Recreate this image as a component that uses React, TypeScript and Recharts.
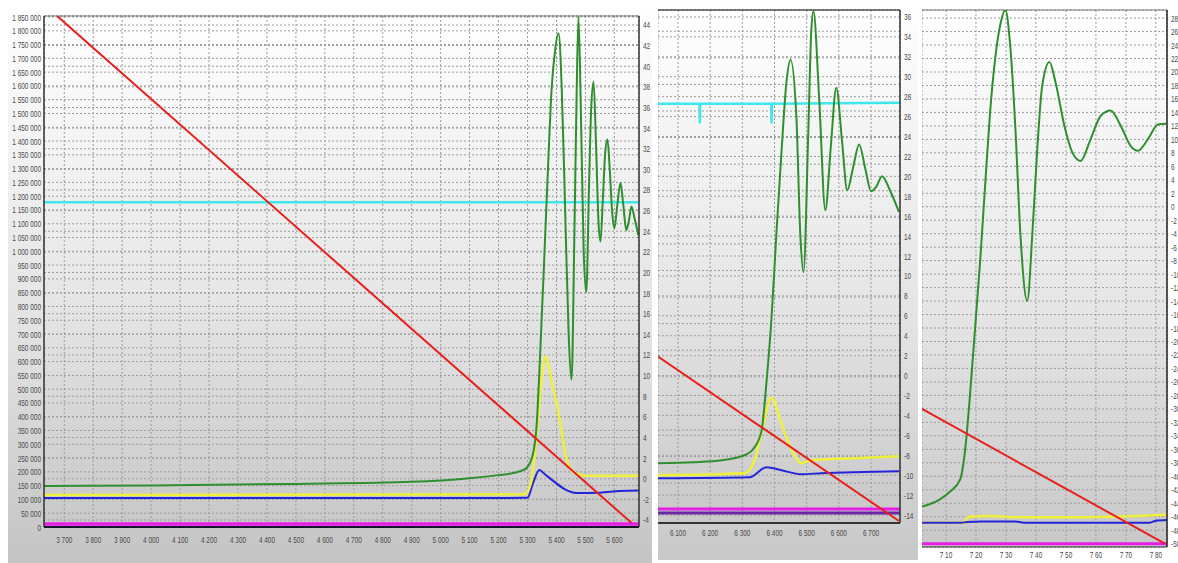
import React from "react";
import {
  LineChart,
  Line,
  XAxis,
  YAxis,
  CartesianGrid,
  ReferenceLine,
} from "recharts";

// ---------- panel 1 (3 630 .. 5 685) ----------
const p1XTicks = [3700, 3800, 3900, 4000, 4100, 4200, 4300, 4400, 4500, 4600, 4700, 4800, 4900, 5000, 5100, 5200, 5300, 5400, 5500, 5600];
const p1LeftTicks = [0, 50000, 100000, 150000, 200000, 250000, 300000, 350000, 400000, 450000, 500000, 550000, 600000, 650000, 700000, 750000, 800000, 850000, 900000, 950000, 1000000, 1050000, 1100000, 1150000, 1200000, 1250000, 1300000, 1350000, 1400000, 1450000, 1500000, 1550000, 1600000, 1650000, 1700000, 1750000, 1800000, 1850000];
const p1RightTicks = [-4, -2, 0, 2, 4, 6, 8, 10, 12, 14, 16, 18, 20, 22, 24, 26, 28, 30, 32, 34, 36, 38, 40, 42, 44];

const p1RedX = [3676, 5659];
const p1RedY = [1853000, 15000];
const p1CyanX = [3630, 5685];
const p1CyanY = [26.8, 26.8];
const p1MagX = [3630, 5685];
const p1MagY = [-4.4, -4.4];
const p1GreenX = [3630, 4000, 4500, 4900, 5100, 5200, 5250, 5290, 5315, 5331, 5345, 5359, 5372, 5383, 5395, 5407, 5418, 5430, 5442, 5452, 5462, 5470, 5476, 5484, 5494, 5503, 5512, 5520, 5528, 5537, 5545, 5552, 5560, 5568, 5576, 5584, 5592, 5600, 5610, 5621, 5631, 5641, 5650, 5659, 5670, 5683];
const p1GreenY = [-0.7, -0.65, -0.5, -0.3, 0.05, 0.35, 0.55, 0.9, 2.0, 5.0, 13, 22.2, 31, 37.7, 41.5, 43.2, 38, 26, 14, 9.6, 24, 38, 44.8, 36, 22, 18.1, 28, 36, 38.5, 32, 25, 23.0, 27, 31.5, 32.9, 30, 26, 24.3, 26.5, 28.7, 26.5, 24.1, 25, 26.4, 25.2, 23.6];
const p1YellowX = [3630, 5290, 5310, 5330, 5345, 5362, 5386, 5410, 5434, 5462, 5500, 5600, 5685];
const p1YellowY = [-1.58, -1.5, -0.6, 3.8, 8.6, 11.8, 9.1, 5.9, 2.0, 0.6, 0.3, 0.3, 0.3];
const p1BlueX = [3630, 5190, 5300, 5318, 5341, 5359, 5393, 5428, 5469, 5550, 5617, 5685];
const p1BlueY = [-1.87, -1.87, -1.85, -0.5, 0.85, 0.46, -0.3, -1.0, -1.38, -1.35, -1.2, -1.15];

// ---------- panel 2 (6 038 .. 6 790) ----------
const p2XTicks = [6100, 6200, 6300, 6400, 6500, 6600, 6700];
const p2RightTicks = [-14, -12, -10, -8, -6, -4, -2, 0, 2, 4, 6, 8, 10, 12, 14, 16, 18, 20, 22, 24, 26, 28, 30, 32, 34, 36];

const p2CyanX = [6038, 6167, 6168, 6169, 6390, 6391, 6392, 6790];
const p2CyanY = [27.3, 27.3, 25.3, 27.3, 27.3, 25.3, 27.3, 27.4];
const p2GreenX = [6038, 6150, 6236, 6307, 6338, 6360, 6375, 6391, 6406, 6422, 6437, 6450, 6468, 6480, 6490, 6505, 6514, 6521, 6539, 6558, 6575, 6592, 6610, 6626, 6645, 6663, 6682, 6700, 6717, 6734, 6760, 6787];
const p2GreenY = [-8.8, -8.7, -8.5, -8.0, -7.2, -5.5, -0.7, 5.9, 14.3, 22.6, 29.4, 31.7, 26.0, 14.3, 10.4, 24.4, 34.4, 36.6, 27.7, 16.6, 23, 28.9, 23.5, 18.6, 21, 23.2, 20.8, 18.5, 19, 20.0, 18.5, 16.4];
const p2YellowX = [6038, 6307, 6338, 6363, 6391, 6415, 6440, 6468, 6483, 6514, 6647, 6787];
const p2YellowY = [-10.0, -9.8, -8.5, -5.2, -2.2, -4.2, -6.5, -8.3, -8.8, -8.5, -8.3, -8.1];
const p2BlueX = [6038, 6323, 6375, 6422, 6483, 6545, 6787];
const p2BlueY = [-10.3, -10.2, -9.2, -9.5, -9.9, -9.8, -9.6];
const p2RedX = [6038, 6787];
const p2RedY = [1.9, -14.6];
const p2MagX = [6038, 6790];
const p2MagY = [-13.4, -13.4];
const p2PurpleY = [-13.8, -13.8];

// ---------- panel 3 (702 .. 783.7) ----------
const p3XTicks = [710, 720, 730, 740, 750, 760, 770, 780];
const p3RightTicks = [28, 26, 24, 22, 20, 18, 16, 14, 12, 10, 8, 6, 4, 2, 0, -2, -4, -6, -8, -10, -12, -14, -16, -18, -20, -22, -24, -26, -28, -30, -32, -34, -36, -38, -40, -42, -44, -46, -48, -50];

const p3GreenX = [702, 707.7, 711.3, 714.7, 716.4, 718, 719.7, 721.4, 723.1, 724.7, 726.4, 728.1, 729.8, 731.4, 733.1, 734.8, 737.1, 738.8, 740.5, 742.1, 744.5, 746.5, 749.5, 752.2, 754.9, 758.2, 761.6, 764.9, 768.3, 771.6, 774, 777.3, 780.7, 783.4];
const p3GreenY = [-44.5, -43.5, -42.3, -40.5, -36, -28, -18, -8, 3.5, 14, 22, 27, 29.2, 24, 12, -4, -14, -4, 9, 18, 21.5, 18.5, 12, 8, 6.8, 10, 13.5, 14.3, 12, 9, 8.3, 10, 12.2, 12.3];
const p3RedX = [702, 783];
const p3RedY = [-30, -50];
const p3YellowX = [702, 716, 717.5, 725, 735, 750, 765, 783.7];
const p3YellowY = [-46.9, -46.9, -46.0, -45.9, -46.1, -46.1, -46.0, -45.7];
const p3BlueX = [702, 715, 717, 722, 733, 736, 760, 778, 780, 783.7];
const p3BlueY = [-46.9, -46.9, -46.8, -46.7, -46.7, -46.9, -46.9, -46.9, -46.6, -46.5];
const p3MagX = [702, 783.7];
const p3MagY = [-50, -50];

const pts = (xs: number[], ys: number[]) => xs.map((x, i) => ({ x, y: ys[i] }));

const FONT = '"Liberation Sans", Arial, sans-serif';

const RED = "#e8201c";
const GREEN = "#2f8f2f";
const CYAN = "#3ee6ee";
const YELLOW = "#f0f03a";
const BLUE = "#2424d8";
const MAGENTA = "#e61ee6";

const spaced = (v: number) => v.toLocaleString("en-US").replace(/,/g, " ");
const plain = (v: number) => String(v);

// plain, horizontally squeezed <text> ticks (the source software uses a narrow face)
const mkTick = (fmt: (v: number) => string, anchor: string, dy: number) => (props: any) => {
  const { x, y, payload } = props;
  return (
    <g transform={`translate(${x},${y})`}>
      <text transform="scale(0.68,1)" dy={dy} textAnchor={anchor} fontSize={9.5} fill="#4a4a4a" fontFamily={FONT}>
        {fmt(payload.value)}
      </text>
    </g>
  );
};

const gridProps = { stroke: "#9c9c9c", strokeDasharray: "2 2" };

const PlotGradient = ({ id }: { id: string }) => (
  <defs>
    <linearGradient id={id} x1="0" y1="0" x2="0" y2="1">
      <stop offset="0%" stopColor="#ffffff" />
      <stop offset="55%" stopColor="#e6e6e6" />
      <stop offset="100%" stopColor="#c8c8c8" />
    </linearGradient>
  </defs>
);

export default function App() {
  return (
    <div style={{ position: "fixed", left: 0, top: 0, width: 1178, height: 563, background: "#fff", overflow: "hidden" }}>
      {/* Panel 1 */}
      <div style={{ position: "absolute", left: 8, top: 0, width: 644, height: 563, background: "linear-gradient(#ffffff, #e2e2e2 60%, #c4c4c4)", overflow: "hidden" }}>
        <LineChart width={644} height={563} margin={{ top: 16, right: 0, bottom: 0, left: 0 }}>
          <PlotGradient id="bg1" />
          <XAxis
            dataKey="x"
            type="number"
            domain={[3630, 5685]}
            allowDataOverflow
            ticks={p1XTicks}
            interval={0}
            height={36}
            tickLine={false}
            tickSize={0}
            axisLine={{ stroke: "#141428", strokeWidth: 2 }}
            tick={mkTick(spaced, "middle", 7)}
            tickMargin={9}
          />
          <YAxis
            yAxisId="l"
            orientation="left"
            type="number"
            width={36}
            domain={[0, 1853600]}
            allowDataOverflow
            ticks={p1LeftTicks}
            interval={0}
            tickLine={false}
            tickSize={0}
            axisLine={{ stroke: "#333", strokeWidth: 1.5 }}
            tick={mkTick(spaced, "end", 3.5)}
            tickMargin={3}
          />
          <YAxis
            yAxisId="r"
            orientation="right"
            type="number"
            width={13}
            domain={[-4.68, 44.87]}
            allowDataOverflow
            ticks={p1RightTicks}
            interval={0}
            tickLine={false}
            tickSize={0}
            axisLine={{ stroke: "#333", strokeWidth: 1.5 }}
            tick={mkTick(plain, "start", 3.5)}
            tickMargin={4}
          />
          <CartesianGrid yAxisId="l" fill="url(#bg1)" {...gridProps} />
          <CartesianGrid yAxisId="r" vertical={false} {...gridProps} />
          <ReferenceLine yAxisId="r" y={44.87} stroke="#777" strokeWidth={1} />
          <Line yAxisId="r" data={pts(p1MagX, p1MagY)} dataKey="y" stroke={MAGENTA} strokeWidth={3.5} dot={false} isAnimationActive={false} />
          <Line yAxisId="r" data={pts(p1CyanX, p1CyanY)} dataKey="y" stroke={CYAN} strokeWidth={2.5} dot={false} isAnimationActive={false} />
          <Line yAxisId="r" data={pts(p1BlueX, p1BlueY)} dataKey="y" type="monotone" stroke={BLUE} strokeWidth={2} dot={false} isAnimationActive={false} />
          <Line yAxisId="r" data={pts(p1YellowX, p1YellowY)} dataKey="y" type="monotone" stroke={YELLOW} strokeWidth={2.5} dot={false} isAnimationActive={false} />
          <Line yAxisId="r" data={pts(p1GreenX, p1GreenY)} dataKey="y" type="monotone" stroke={GREEN} strokeWidth={2} dot={false} isAnimationActive={false} />
          <Line yAxisId="l" data={pts(p1RedX, p1RedY)} dataKey="y" stroke={RED} strokeWidth={2} dot={false} isAnimationActive={false} />
        </LineChart>
      </div>

      {/* Panel 2 */}
      <div style={{ position: "absolute", left: 658, top: 0, width: 260, height: 560, background: "linear-gradient(#ffffff, #e2e2e2 60%, #c8c8c8)", overflow: "hidden" }}>
        <LineChart width={260} height={560} margin={{ top: 10, right: 0, bottom: 0, left: 0 }}>
          <PlotGradient id="bg2" />
          <XAxis
            dataKey="x"
            type="number"
            domain={[6038, 6790]}
            allowDataOverflow
            ticks={p2XTicks}
            interval={0}
            height={37}
            tickLine={false}
            tickSize={0}
            axisLine={{ stroke: "#333", strokeWidth: 2 }}
            tick={mkTick(spaced, "middle", 7)}
            tickMargin={6}
          />
          {/* hidden pressure axis: only its grid rows are visible in this panel */}
          <YAxis yAxisId="l" hide type="number" domain={[0, 1930000]} allowDataOverflow ticks={p1LeftTicks} />
          <YAxis
            yAxisId="r"
            orientation="right"
            type="number"
            width={18}
            domain={[-14.8, 36.7]}
            allowDataOverflow
            ticks={p2RightTicks}
            interval={0}
            tickLine={false}
            tickSize={0}
            axisLine={{ stroke: "#333", strokeWidth: 1.5 }}
            tick={mkTick(plain, "start", 3.5)}
            tickMargin={4}
          />
          <CartesianGrid yAxisId="r" fill="url(#bg2)" {...gridProps} />
          <CartesianGrid yAxisId="l" vertical={false} {...gridProps} />
          <ReferenceLine yAxisId="r" y={36.7} stroke="#555" strokeWidth={1.5} />
          <Line yAxisId="r" data={pts(p2MagX, p2PurpleY)} dataKey="y" stroke="#6a28a8" strokeWidth={3} dot={false} isAnimationActive={false} />
          <Line yAxisId="r" data={pts(p2MagX, p2MagY)} dataKey="y" stroke={MAGENTA} strokeWidth={3} dot={false} isAnimationActive={false} />
          <Line yAxisId="r" data={pts(p2CyanX, p2CyanY)} dataKey="y" stroke={CYAN} strokeWidth={2.5} dot={false} isAnimationActive={false} />
          <Line yAxisId="r" data={pts(p2BlueX, p2BlueY)} dataKey="y" type="monotone" stroke={BLUE} strokeWidth={2} dot={false} isAnimationActive={false} />
          <Line yAxisId="r" data={pts(p2YellowX, p2YellowY)} dataKey="y" type="monotone" stroke={YELLOW} strokeWidth={2.5} dot={false} isAnimationActive={false} />
          <Line yAxisId="r" data={pts(p2GreenX, p2GreenY)} dataKey="y" type="monotone" stroke={GREEN} strokeWidth={2} dot={false} isAnimationActive={false} />
          <Line yAxisId="r" data={pts(p2RedX, p2RedY)} dataKey="y" stroke={RED} strokeWidth={2} dot={false} isAnimationActive={false} />
        </LineChart>
      </div>

      {/* Panel 3 */}
      <div style={{ position: "absolute", left: 922, top: 0, width: 256, height: 563, background: "#fff", overflow: "hidden" }}>
        <LineChart width={256} height={563} margin={{ top: 10, right: 0, bottom: 0, left: 0 }}>
          <PlotGradient id="bg3" />
          <XAxis
            dataKey="x"
            type="number"
            domain={[702, 783.7]}
            allowDataOverflow
            ticks={p3XTicks}
            interval={0}
            height={16}
            tickLine={false}
            tickSize={0}
            axisLine={{ stroke: "#333", strokeWidth: 1 }}
            tick={mkTick((v: number) => `7 ${v - 700}`, "middle", 7)}
            tickMargin={4}
          />
          <YAxis
            yAxisId="r"
            orientation="right"
            type="number"
            width={11}
            domain={[-50.5, 29.2]}
            allowDataOverflow
            ticks={p3RightTicks}
            interval={0}
            tickLine={false}
            tickSize={0}
            axisLine={{ stroke: "#222", strokeWidth: 1.5 }}
            tick={mkTick(plain, "start", 3.5)}
            tickMargin={4}
          />
          <CartesianGrid yAxisId="r" fill="url(#bg3)" {...gridProps} />
          <ReferenceLine yAxisId="r" y={29.2} stroke="#777" strokeWidth={1} />
          <Line yAxisId="r" data={pts(p3MagX, p3MagY)} dataKey="y" stroke={MAGENTA} strokeWidth={3} dot={false} isAnimationActive={false} />
          <Line yAxisId="r" data={pts(p3YellowX, p3YellowY)} dataKey="y" type="monotone" stroke={YELLOW} strokeWidth={2.5} dot={false} isAnimationActive={false} />
          <Line yAxisId="r" data={pts(p3BlueX, p3BlueY)} dataKey="y" type="monotone" stroke={BLUE} strokeWidth={2} dot={false} isAnimationActive={false} />
          <Line yAxisId="r" data={pts(p3GreenX, p3GreenY)} dataKey="y" type="monotone" stroke={GREEN} strokeWidth={2} dot={false} isAnimationActive={false} />
          <Line yAxisId="r" data={pts(p3RedX, p3RedY)} dataKey="y" stroke={RED} strokeWidth={2} dot={false} isAnimationActive={false} />
        </LineChart>
      </div>
    </div>
  );
}
